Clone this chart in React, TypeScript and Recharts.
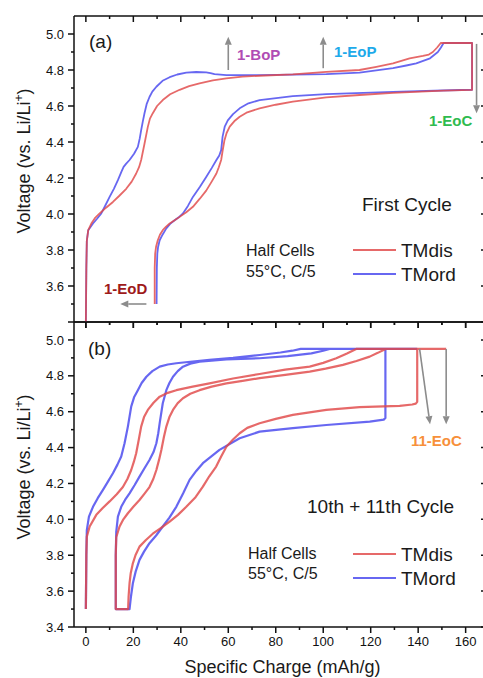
import React from 'react';
import { LineChart, Line, XAxis, YAxis, ReferenceLine } from 'recharts';

// ---- axes ----
const X_DOMAIN: [number, number] = [-5, 169];
const Y_DOMAIN: [number, number] = [3.4, 5.1];
const xMajorTicks = [0, 20, 40, 60, 80, 100, 120, 140, 160];
const xMinorTicks = [10, 30, 50, 70, 90, 110, 130, 150];
const yMajorTicksA = [3.6, 3.8, 4.0, 4.2, 4.4, 4.6, 4.8, 5.0];
const yMajorTicksB = [3.4, 3.6, 3.8, 4.0, 4.2, 4.4, 4.6, 4.8, 5.0];
const yMinorTicks = [3.5, 3.7, 3.9, 4.1, 4.3, 4.5, 4.7, 4.9];

// ---- (a) first cycle: [specific charge, voltage] ----
const tmdisCycle1 = [
  [0, 3.4], [0.2, 3.7], [0.4, 3.85], [1, 3.91], [2.3, 3.947], [4, 3.98], [5.8, 4.003], [8.5, 4.035],
  [11.4, 4.067], [14, 4.1], [17, 4.14], [19.3, 4.18], [21.2, 4.225], [22.4, 4.26], [23.3, 4.3],
  [24.7, 4.39], [26.1, 4.484], [27, 4.53], [28.2, 4.56], [30, 4.6], [32.4, 4.633], [35.5, 4.665],
  [39.5, 4.69], [43.5, 4.71], [47.9, 4.726], [53.5, 4.742], [59.2, 4.754], [66, 4.763], [73.2, 4.768],
  [87.2, 4.776], [101.3, 4.79], [115.3, 4.8], [122.4, 4.818], [129.4, 4.837], [136.4, 4.865],
  [142, 4.878], [144.5, 4.886], [146.2, 4.9], [148, 4.925], [149.5, 4.95], [162.7, 4.95],
  [162.7, 4.69], [150.5, 4.685], [129.4, 4.673], [115.3, 4.661], [101.3, 4.648], [87.2, 4.624],
  [80, 4.607], [73.2, 4.587], [68, 4.565], [64.8, 4.54], [62.5, 4.515], [60.6, 4.485], [59.3, 4.45],
  [58.4, 4.41], [57.6, 4.35], [57, 4.3], [56, 4.26], [55, 4.225], [53, 4.18], [50.7, 4.13],
  [48, 4.085], [45.1, 4.04], [42.3, 4.01], [39.5, 3.984], [37.4, 3.965], [35.3, 3.947], [33.8, 3.93],
  [32.4, 3.91], [31.2, 3.885], [30.3, 3.854], [29.6, 3.82], [29.2, 3.78], [29, 3.7], [29, 3.5],
];
const tmordCycle1 = [
  [0, 3.4], [0.2, 3.7], [0.4, 3.85], [1, 3.91], [3, 3.947], [4.8, 3.975], [6.5, 4.003], [8.3, 4.05],
  [10, 4.095], [11.8, 4.14], [13.5, 4.188], [15, 4.235], [15.9, 4.262], [17, 4.28], [18.4, 4.3],
  [20.3, 4.335], [21.9, 4.373], [22.7, 4.42], [23.3, 4.466], [24, 4.515], [24.7, 4.56], [25.6, 4.61],
  [26.8, 4.65], [28, 4.68], [29.7, 4.707], [32.3, 4.74], [35.3, 4.76], [38.5, 4.775], [42.3, 4.785],
  [46.5, 4.789], [50.7, 4.787], [52.5, 4.783], [54.2, 4.777], [59.2, 4.772], [73.2, 4.772],
  [87.2, 4.774], [101.3, 4.777], [115.3, 4.785], [129.4, 4.81], [135, 4.825], [139.2, 4.837],
  [145, 4.865], [148.3, 4.9], [149.6, 4.925], [150.7, 4.95], [162.7, 4.95], [162.7, 4.69],
  [157.5, 4.689], [129.4, 4.679], [101.3, 4.666], [87.2, 4.655], [73.2, 4.633], [68.5, 4.615],
  [64.8, 4.587], [62, 4.555], [59.8, 4.52], [58.5, 4.485], [57.6, 4.43], [57, 4.355], [56.2, 4.325],
  [55, 4.3], [53, 4.255], [50.7, 4.206], [48, 4.15], [45.1, 4.095], [43, 4.045], [40.9, 4.003],
  [39, 3.98], [37.4, 3.965], [35.5, 3.945], [33.9, 3.92], [32.3, 3.885], [31.1, 3.854], [30.4, 3.815],
  [30.1, 3.78], [29.9, 3.7], [29.8, 3.5],
];

// ---- (b) 10th + 11th cycle ----
const tmdisCycle10to11 = [
  [0, 3.5], [0.2, 3.8], [0.4, 3.904], [1.6, 3.96], [4.4, 4.025], [7, 4.062], [10, 4.1], [13, 4.14],
  [15.6, 4.18], [17.5, 4.225], [19.1, 4.275], [20.2, 4.32], [21.2, 4.368], [22.3, 4.445], [23.3, 4.517],
  [24.5, 4.57], [26.1, 4.61], [28.5, 4.65], [31.1, 4.684], [34.5, 4.705], [38.1, 4.72], [45, 4.74],
  [52.1, 4.758], [62, 4.785], [73.2, 4.81], [84, 4.835], [94.3, 4.851], [100, 4.872], [105.5, 4.898],
  [110, 4.925], [113.9, 4.95], [139.6, 4.95], [139.6, 4.655], [139, 4.645], [137.5, 4.64],
  [132.2, 4.632], [115.3, 4.625], [101.3, 4.61], [87.2, 4.582], [80, 4.56], [73.2, 4.536], [68, 4.51],
  [64.8, 4.48], [62, 4.445], [59.2, 4.405], [57, 4.35], [54.9, 4.294], [52, 4.24], [49.3, 4.182],
  [46, 4.12], [42.3, 4.07], [38.8, 4.025], [35.3, 3.987], [31.7, 3.953], [28.2, 3.92], [25.3, 3.885],
  [22.6, 3.848], [20.9, 3.8], [19.8, 3.755], [18.9, 3.7], [18.4, 3.644], [18, 3.57], [17.8, 3.5],
  [12.6, 3.5], [12.6, 3.8], [12.8, 3.9], [14.2, 3.96], [15.8, 4.0], [17.7, 4.034], [20, 4.07],
  [22.6, 4.108], [24.8, 4.145], [26.8, 4.18], [28.4, 4.225], [29.7, 4.275], [30.8, 4.33], [31.8, 4.387],
  [32.9, 4.46], [33.9, 4.517], [35.2, 4.57], [36.7, 4.61], [38.7, 4.648], [40.9, 4.675], [44, 4.7],
  [47.9, 4.72], [53, 4.74], [59.2, 4.758], [66, 4.772], [73.2, 4.787], [84, 4.805], [94.3, 4.823],
  [101, 4.84], [108.3, 4.861], [114, 4.883], [119.6, 4.907], [123, 4.928], [126.3, 4.95], [151.8, 4.95],
];
const tmordCycle10to11 = [
  [0, 3.5], [0.2, 3.8], [0.4, 3.94], [1.3, 4.015], [3, 4.07], [5, 4.118], [7.2, 4.164], [9.3, 4.21],
  [11.4, 4.257], [13.3, 4.305], [14.9, 4.35], [16.3, 4.424], [17.7, 4.517], [19.1, 4.628], [20.3, 4.68],
  [21.9, 4.72], [23.5, 4.76], [25.5, 4.795], [28, 4.826], [31.1, 4.851], [34.5, 4.863], [38.1, 4.87],
  [45, 4.88], [52.1, 4.889], [62, 4.9], [73.2, 4.916], [82, 4.93], [87, 4.94], [90.5, 4.95],
  [126.2, 4.95], [126.2, 4.565], [125.5, 4.556], [119.6, 4.545], [101.3, 4.526], [87.2, 4.508],
  [73.2, 4.489], [64.8, 4.452], [56.3, 4.387], [49.3, 4.313], [46.5, 4.27], [43.7, 4.22], [41, 4.145],
  [38.1, 4.07], [35.2, 4.01], [32.4, 3.96], [29.6, 3.91], [26.8, 3.867], [24.5, 3.82], [22.6, 3.774],
  [21, 3.71], [19.8, 3.644], [19, 3.57], [18.4, 3.5], [12.6, 3.5], [12.6, 3.8], [12.8, 3.93],
  [13.5, 4.015], [14.9, 4.07], [16.5, 4.108], [18.4, 4.145], [20.5, 4.19], [22.6, 4.238], [24.7, 4.285],
  [26.8, 4.331], [28.5, 4.375], [29.7, 4.424], [30.5, 4.48], [31.1, 4.536], [32.4, 4.647], [33.9, 4.72],
  [35.2, 4.76], [36.7, 4.795], [38.7, 4.826], [40.9, 4.851], [44, 4.868], [47.9, 4.879], [59.2, 4.892],
  [73.2, 4.898], [85, 4.91], [95, 4.925], [100, 4.94], [102.7, 4.95], [139.6, 4.95],
];

// ---- arrows: [from, to] in data units ----
const arrowsA = [
  [[60, 4.8], [60, 4.985]],
  [[100, 4.81], [100, 4.985]],
  [[164.6, 4.945], [164.6, 4.56]],
  [[25.5, 3.5], [14.5, 3.5]],
];
const arrowsB = [
  [[140.6, 4.95], [145, 4.53]],
  [[151.8, 4.95], [151.8, 4.53]],
];

const FONT = "'Liberation Sans', Arial, Helvetica, sans-serif";
const RED = '#e04848';
const BLUE = '#4646ee';
const AXIS = '#111';
const ARROW = '#8c8c8c';
const AXIS_W = 1.5;

const toPts = (a: number[][]) => a.map(([x, y]) => ({ x, y }));

function ArrowShape(p: any) {
  const { x1, y1, x2, y2 } = p;
  const dx = x2 - x1;
  const dy = y2 - y1;
  const len = Math.hypot(dx, dy) || 1;
  const ux = dx / len;
  const uy = dy / len;
  const hl = 8;
  const hw = 3.5;
  const bx = x2 - ux * hl;
  const by = y2 - uy * hl;
  return (
    <g>
      <line x1={x1} y1={y1} x2={bx} y2={by} stroke={ARROW} strokeWidth={1.6} />
      <polygon
        points={`${x2},${y2} ${bx - uy * hw},${by + ux * hw} ${bx + uy * hw},${by - ux * hw}`}
        fill={ARROW}
      />
    </g>
  );
}

// tick marks on top (inward) and bottom (outward) edges for a vertical reference at x = v
const vTickShape = (len: number) => (p: any) => {
  const top = Math.min(p.y1, p.y2);
  const bot = Math.max(p.y1, p.y2);
  return (
    <g stroke={AXIS} strokeWidth={AXIS_W}>
      <line x1={p.x1} x2={p.x1} y1={top} y2={top + len} />
      <line x1={p.x1} x2={p.x1} y1={bot} y2={bot + len} />
    </g>
  );
};
// tick marks on left (outward) and right (inward) edges for a horizontal reference at y = v
const hTickShape = (len: number) => (p: any) => {
  const l = Math.min(p.x1, p.x2);
  const r = Math.max(p.x1, p.x2);
  return (
    <g stroke={AXIS} strokeWidth={AXIS_W}>
      <line x1={l - len} x2={l} y1={p.y1} y2={p.y1} />
      <line x1={r - len} x2={r} y1={p.y1} y2={p.y1} />
    </g>
  );
};

function frame() {
  const ref = { xAxisId: 'x', yAxisId: 'y', ifOverflow: 'visible' as const, stroke: AXIS, strokeWidth: AXIS_W };
  return [
    ...xMajorTicks.map((v) => <ReferenceLine key={`xM${v}`} {...ref} x={v} shape={vTickShape(6)} />),
    ...xMinorTicks.map((v) => <ReferenceLine key={`xm${v}`} {...ref} x={v} shape={vTickShape(3)} />),
    ...yMajorTicksB.map((v) => <ReferenceLine key={`yM${v}`} {...ref} y={v} shape={hTickShape(6)} />),
    ...yMinorTicks.map((v) => <ReferenceLine key={`ym${v}`} {...ref} y={v} shape={hTickShape(3)} />),
    <ReferenceLine key="fl" {...ref} x={X_DOMAIN[0]} />,
    <ReferenceLine key="fr" {...ref} x={X_DOMAIN[1]} />,
    <ReferenceLine key="fb" {...ref} y={Y_DOMAIN[0]} />,
    <ReferenceLine key="ft" {...ref} y={Y_DOMAIN[1]} />,
  ];
}

function yAxisFor(ticks: number[]) {
  return (
    <YAxis yAxisId="y" type="number" domain={Y_DOMAIN} allowDataOverflow ticks={ticks} interval={0}
      width={74} tickSize={6} tickMargin={4} tickLine={false} axisLine={false}
      tickFormatter={(v: number) => v.toFixed(1)}
      tick={{ fill: AXIS, fontSize: 13, fontFamily: FONT }} />
  );
}

function series(data: number[][], color: string, width: number, key: string) {
  return (
    <Line key={key} xAxisId="x" yAxisId="y" data={toPts(data)} dataKey="y" type="linear"
      stroke={color} strokeWidth={width} strokeOpacity={0.82} dot={false} activeDot={false}
      isAnimationActive={false} strokeLinejoin="round" />
  );
}

function arrows(list: number[][][]) {
  return list.map(([a, b], i) => (
    <ReferenceLine key={`ar${i}`} xAxisId="x" yAxisId="y" ifOverflow="visible"
      segment={[{ x: a[0], y: a[1] }, { x: b[0], y: b[1] }]} shape={ArrowShape} />
  ));
}

const txt = { fontFamily: FONT, fill: '#1a1a1a' };
const bold = { fontFamily: FONT, fontWeight: 700, fontSize: 15 };

function YTitle({ y }: { y: number }) {
  return (
    <text transform={`translate(30, ${y}) rotate(-90)`} textAnchor="middle" fontSize={18} {...txt}>
      Voltage (vs. Li/Li<tspan dy={-7} fontSize={12}>+</tspan><tspan dy={7}>)</tspan>
    </text>
  );
}

function Legend({ y }: { y: number }) {
  return (
    <g>
      <line x1={353} x2={396} y1={y} y2={y} stroke={RED} strokeWidth={2} strokeOpacity={0.82} />
      <text x={401} y={y + 7} fontSize={19} {...txt}>TMdis</text>
      <line x1={353} x2={396} y1={y + 24} y2={y + 24} stroke={BLUE} strokeWidth={2} strokeOpacity={0.82} />
      <text x={401} y={y + 31} fontSize={19} {...txt}>TMord</text>
    </g>
  );
}

export default function App() {
  return (
    <div style={{ position: 'relative', width: 490, height: 678, background: '#fff' }}>
      <style>{'body{margin:0;overflow:hidden;background:#fff}'}</style>
      <div style={{ position: 'absolute', left: 0, top: 0 }}>
        <LineChart width={490} height={330} margin={{ top: 16, right: 3, bottom: 8, left: 0 }}>
          <XAxis xAxisId="x" type="number" dataKey="x" domain={X_DOMAIN} allowDataOverflow hide />
          {yAxisFor(yMajorTicksA)}
          {frame()}
          {series(tmordCycle1, BLUE, 1.8, 'a-ord')}
          {series(tmdisCycle1, RED, 1.8, 'a-dis')}
          {arrows(arrowsA)}
        </LineChart>
      </div>
      <div style={{ position: 'absolute', left: 0, top: 314 }}>
        <LineChart width={490} height={364} margin={{ top: 8, right: 3, bottom: 0, left: 0 }}>
          <XAxis xAxisId="x" type="number" dataKey="x" domain={X_DOMAIN} allowDataOverflow
            ticks={xMajorTicks} interval={0} height={51} tickSize={6} tickMargin={4}
            tickLine={false} axisLine={false}
            tick={{ fill: AXIS, fontSize: 13, fontFamily: FONT }} />
          {yAxisFor(yMajorTicksB)}
          {frame()}
          {series(tmordCycle10to11, BLUE, 2.2, 'b-ord')}
          {series(tmdisCycle10to11, RED, 2.2, 'b-dis')}
          {arrows(arrowsB)}
        </LineChart>
      </div>
      <svg width={490} height={678} style={{ position: 'absolute', left: 0, top: 0, pointerEvents: 'none' }}>
        {/* panel (a) */}
        <YTitle y={161} />
        <text x={89} y={48} fontSize={19} {...txt}>(a)</text>
        <text x={237} y={59.5} fill="#b04cb4" {...bold}>1-BoP</text>
        <text x={334} y={57} fill="#1eaaea" {...bold}>1-EoP</text>
        <text x={429} y={125.5} fill="#2fbb4f" {...bold}>1-EoC</text>
        <text x={104} y={294} fill="#9e1a1a" {...bold}>1-EoD</text>
        <text x={362} y={210.5} fontSize={19} {...txt}>First Cycle</text>
        <text x={246} y={256} fontSize={16} {...txt}>Half Cells</text>
        <text x={246} y={276.5} fontSize={16} {...txt}>55°C, C/5</text>
        <Legend y={250} />
        {/* panel (b) */}
        <YTitle y={467} />
        <text x={88} y={355} fontSize={19} {...txt}>(b)</text>
        <text x={411} y={446} fill="#f7903a" {...bold}>11-EoC</text>
        <text x={307} y={512.5} fontSize={19} {...txt}>10th + 11th Cycle</text>
        <text x={248} y={559} fontSize={16} {...txt}>Half Cells</text>
        <text x={248} y={579} fontSize={16} {...txt}>55°C, C/5</text>
        <Legend y={554} />
        <text x={282.5} y={673} textAnchor="middle" fontSize={18} {...txt}>Specific Charge (mAh/g)</text>
      </svg>
    </div>
  );
}
